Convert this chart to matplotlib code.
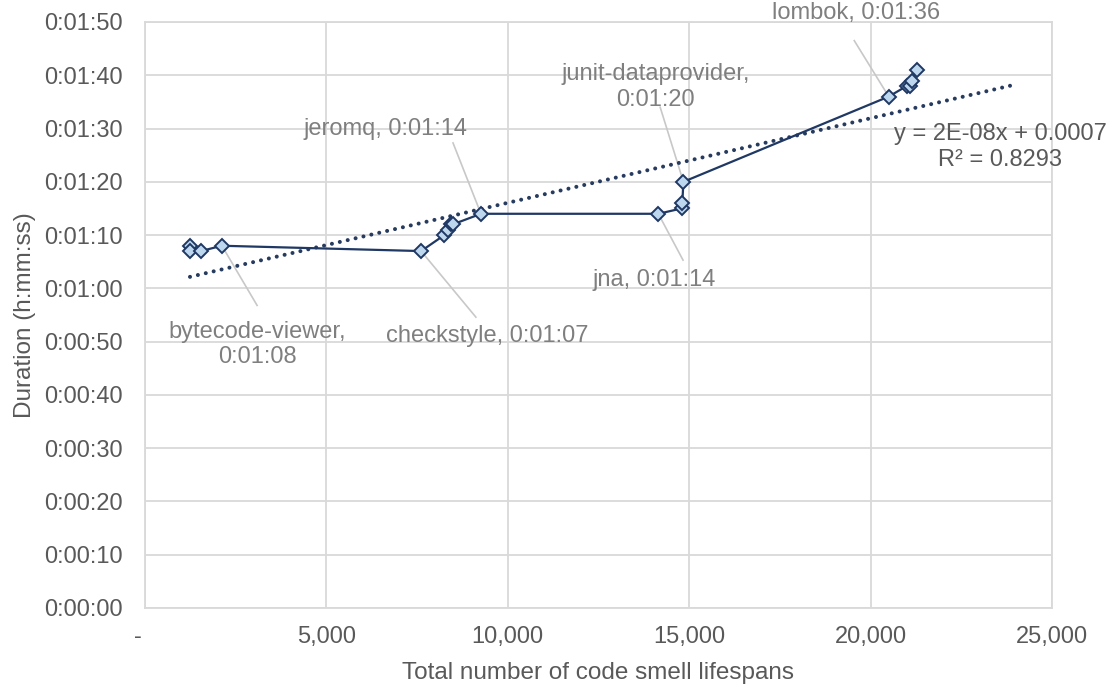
import matplotlib
matplotlib.use("Agg")
import matplotlib.pyplot as plt
import matplotlib.transforms as mtransforms
import numpy as np
from matplotlib.ticker import FuncFormatter, FixedLocator

plt.rcParams['font.family'] = ['Liberation Sans', 'DejaVu Sans']

# ---- data ----
lifespans = [1240, 1250, 1540, 2120, 7610, 8250, 8360, 8430, 8480, 9260,
             14150, 14790, 14810, 14840, 20500, 21000, 21090, 21140, 21280]
duration_s = [68, 67, 67, 68, 67, 70, 71, 72, 72, 74,
              74, 75, 76, 80, 96, 98, 98, 99, 101]

label_names = ["bytecode-viewer,\n0:01:08", "checkstyle, 0:01:07", "jeromq, 0:01:14",
               "jna, 0:01:14", "junit-dataprovider,\n0:01:20", "lombok, 0:01:36"]
label_point_idx = [3, 4, 9, 10, 13, 14]

x_ticks = [0, 5000, 10000, 15000, 20000, 25000]
x_tick_labels = ["-", "5,000", "10,000", "15,000", "20,000", "25,000"]
y_ticks = list(range(0, 111, 10))

equation_text = "y = 2E-08x + 0.0007\nR\u00b2 = 0.8293"
trend_forward = 2750

# ---- layout (label text centers and leader-line starts, data coords) ----
label_text_pos = [(3090, 49.5), (9430, 51.0), (6620, 89.9),
                  (14030, 61.6), (14080, 97.8), (19600, 111.6)]
leader_start = [(3090, 56.8), (9120, 54.6), (8490, 87.3),
                (14830, 65.3), (14200, 94.0), (19550, 106.5)]

W, H = 1115, 687
fig = plt.figure(figsize=(W / 100, H / 100), dpi=100)
ax = fig.add_axes([145 / W, 79 / H, 907 / W, 586 / H])

ax.set_xlim(0, 25000)
ax.set_ylim(0, 110)

def fmt_hms(v, pos):
    v = int(round(v))
    return "%d:%02d:%02d" % (v // 3600, (v % 3600) // 60, v % 60)

ax.yaxis.set_major_locator(FixedLocator(y_ticks))
ax.yaxis.set_major_formatter(FuncFormatter(fmt_hms))
ax.set_xticks(x_ticks)
ax.set_xticklabels(x_tick_labels)

ax.grid(True, color='#D9D9D9', lw=1.3)
ax.set_axisbelow(True)
for sp in ax.spines.values():
    sp.set_color('#D9D9D9')
    sp.set_linewidth(1.3)

ax.tick_params(axis='both', length=0, labelsize=17, colors='#595959')
ax.tick_params(axis='x', pad=13)
ax.tick_params(axis='y', pad=16)

# shift the "-" zero label slightly left, as in the accounting format
first = ax.get_xticklabels()[0]
first.set_transform(first.get_transform() +
                    mtransforms.ScaledTranslation(-7 / 100, 0, fig.dpi_scale_trans))

ax.set_xlabel("Total number of code smell lifespans", fontsize=17.5, color='#595959', labelpad=10)
ax.set_ylabel("Duration (h:mm:ss)", fontsize=17.5, color='#595959', labelpad=6)

# trendline
xs = np.array(lifespans, dtype=float)
ys = np.array(duration_s, dtype=float)
slope, intercept = np.polyfit(xs, ys, 1)
xt = np.array([xs.min(), xs.max() + trend_forward])
ax.plot(xt, slope * xt + intercept, color='#263B5E', lw=2.9,
        ls=(0, (0.01, 2.0)), dash_capstyle='round', zorder=2.5)

# leader lines
for (sx, sy), i in zip(leader_start, label_point_idx):
    ax.plot([sx, lifespans[i]], [sy, duration_s[i]], color='#C8C8C8', lw=1.2, zorder=2)

# series
ax.plot(lifespans, duration_s, color='#1F3864', lw=1.6, marker='D', ms=7,
        mfc='#BDD7EE', mec='#1F3864', mew=1.4, zorder=3)

# labels
for (tx, ty), name in zip(label_text_pos, label_names):
    ax.text(tx, ty, name, ha='center', va='center', fontsize=17, color='#7F7F7F',
            linespacing=1.2, clip_on=False, zorder=4)

ax.text(23570, 86.5, equation_text, ha='center', va='center', fontsize=17,
        color='#595959', linespacing=1.2, clip_on=False, zorder=4)

fig.savefig("out.png", dpi=100)
